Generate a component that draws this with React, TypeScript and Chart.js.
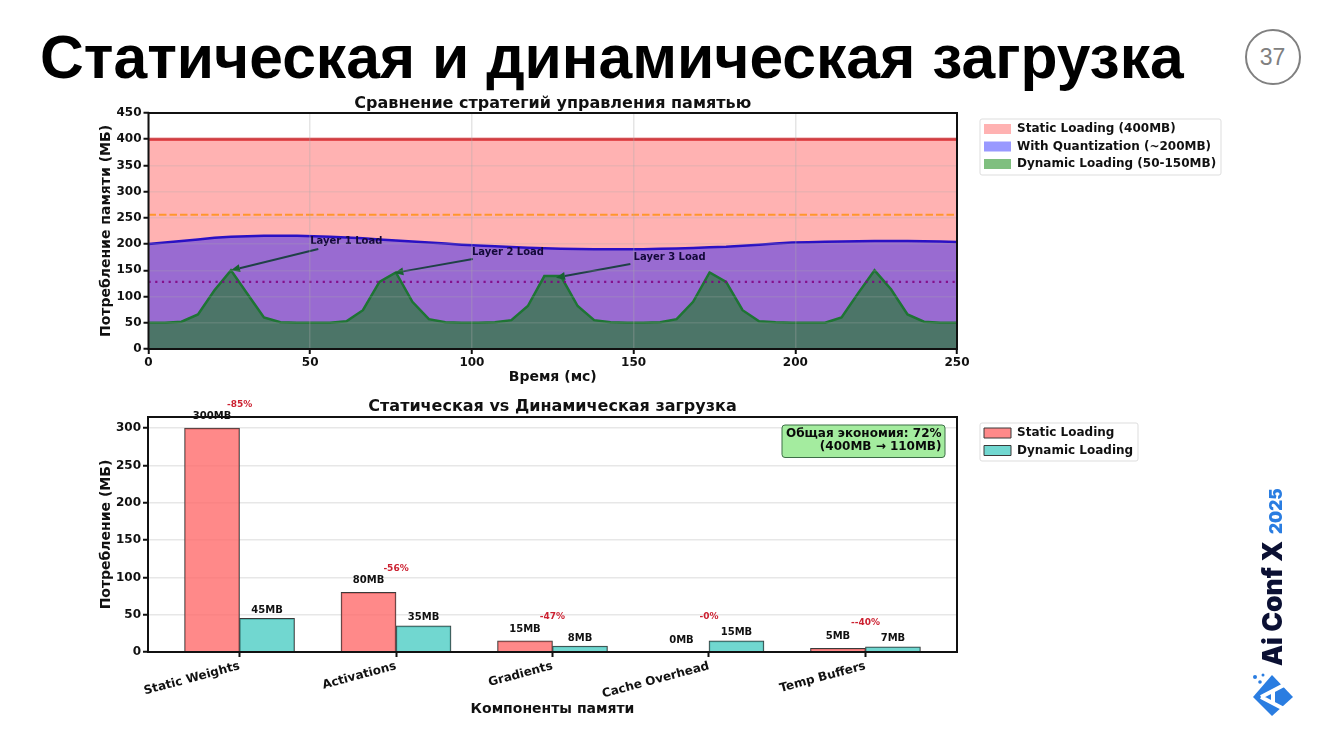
import { useEffect, useRef } from "react"
import { Chart, registerables } from "chart.js"

Chart.register(...registerables)

const FONT = "'DejaVu Sans'"

// top chart
const times = [0, 5.1, 10.2, 15.3, 20.4, 25.5, 30.6, 35.7, 40.8, 45.9, 51, 56.1, 61.2, 66.3, 71.4, 76.5, 81.6, 86.7, 91.8, 96.9, 102, 107.1, 112.2, 117.3, 122.4, 127.5, 132.7, 137.8, 142.9, 148, 153, 158.2, 163.3, 168.4, 173.5, 178.6, 183.7, 188.8, 193.9, 199, 204, 209.2, 214.3, 219.4, 224.5, 229.6, 234.7, 239.8, 244.9, 250]
const quantized = [200, 203, 206, 209, 212, 214, 215, 216, 216, 216, 215, 214, 212.5, 211, 209, 207, 205, 203, 201, 199, 197.5, 196, 194.5, 193, 192, 191, 190.5, 190, 190, 190, 190, 191, 191.5, 192.5, 194, 195, 197, 199, 201, 203, 203.5, 204.5, 205, 205.5, 206, 206, 206, 205.5, 205, 204]
const dynamic = [50, 50, 52, 66, 112, 150, 105, 60, 51, 50, 50, 50, 53, 74, 128, 146, 90, 57, 51, 50, 50, 51, 55, 82, 139, 139, 82, 55, 51, 50, 50, 51, 57, 90, 146, 128, 74, 53, 51, 50, 50, 50, 60, 106, 150, 114, 66, 52, 50, 50]
const edgeTimes = [0, 250]
const staticLevel = [400, 400]
const meanStatic = [256, 256]
const meanDynamic = [128, 128]
const layerLabels = ["Layer 1 Load", "Layer 2 Load", "Layer 3 Load"]
const layerTextTime = [50, 100, 150]
const layerTextMem = [206, 185, 174]
const layerTailTime = [52.5, 100.3, 149]
const layerTailMem = [190.7, 171.6, 162]
const layerTipTime = [25.5, 76, 126]
const layerTipMem = [150, 145, 136]

// bottom chart
const components = ["Static Weights", "Activations", "Gradients", "Cache Overhead", "Temp Buffers"]
const positions = [0, 1, 2, 3, 4]
const staticMb = [300, 80, 15, 0, 5]
const dynamicMb = [45, 35, 8, 15, 7]
const savings = ["-85%", "-56%", "-47%", "-0%", "--40%"]
const savingsNote = ["Общая экономия: 72%", "(400MB → 110MB)"]

const points = (xs: number[], ys: number[]) => xs.map((x, i) => ({ x, y: ys[i] }))

const font = (size: number) => ({ family: FONT, size, weight: "bold" as const, lineHeight: 1.2 })

// black frame round the plot, chart.js only has bottom/left borders otherwise
const framePlugin = {
  id: "frame",
  afterDraw(chart: any) {
    const { left, right, top, bottom } = chart.chartArea
    const ctx = chart.ctx
    ctx.save()
    ctx.strokeStyle = "#111"
    ctx.lineWidth = 2
    ctx.strokeRect(left, top, right - left, bottom - top)
    ctx.restore()
  },
}

// moves the legend out of the plot and draws its box
const legendBoxPlugin = {
  id: "legendBox",
  afterLayout(chart: any) {
    const { x, y, w, h } = chart.options.plugins.legendBox
    const legend = chart.legend
    legend.left = x - 1.5
    legend.top = y - 1.5
    legend.right = x + w
    // roomy bottom, otherwise the legend wraps into a second column
    legend.bottom = y + h + 30
  },
  beforeDraw(chart: any) {
    const { x, y, w, h } = chart.options.plugins.legendBox
    const ctx = chart.ctx
    ctx.save()
    ctx.strokeStyle = "#dddddd"
    ctx.fillStyle = "#fff"
    ctx.lineWidth = 1
    ctx.beginPath()
    ctx.roundRect(x, y, w, h, 2)
    ctx.fill()
    ctx.stroke()
    ctx.restore()
  },
}

const layerPlugin = {
  id: "layers",
  afterDatasetsDraw(chart: any) {
    const { x, y } = chart.scales
    const ctx = chart.ctx
    ctx.save()
    ctx.font = `bold 10px ${FONT}`
    ctx.textBaseline = "middle"
    layerLabels.forEach((label, i) => {
      const sx = x.getPixelForValue(layerTailTime[i])
      const sy = y.getPixelForValue(layerTailMem[i])
      const ex = x.getPixelForValue(layerTipTime[i])
      const ey = y.getPixelForValue(layerTipMem[i])
      const a = Math.atan2(ey - sy, ex - sx)
      const headX = ex - 9 * Math.cos(a)
      const headY = ey - 9 * Math.sin(a)
      ctx.strokeStyle = "rgba(22,62,60,0.92)"
      ctx.lineWidth = 2
      ctx.beginPath()
      ctx.moveTo(sx, sy)
      ctx.lineTo(headX, headY)
      ctx.stroke()
      ctx.fillStyle = "#17622f"
      ctx.beginPath()
      ctx.moveTo(ex, ey)
      ctx.lineTo(headX - 4 * Math.sin(a), headY + 4 * Math.cos(a))
      ctx.lineTo(headX + 4 * Math.sin(a), headY - 4 * Math.cos(a))
      ctx.closePath()
      ctx.fill()
      ctx.fillStyle = "#14093a"
      ctx.fillText(label, x.getPixelForValue(layerTextTime[i]), y.getPixelForValue(layerTextMem[i]))
    })
    ctx.restore()
  },
}

const barTextPlugin = {
  id: "barText",
  afterDraw(chart: any) {
    const { x, y } = chart.scales
    const ctx = chart.ctx
    ctx.save()
    ctx.textAlign = "center"
    ctx.textBaseline = "middle"
    positions.forEach((pos, i) => {
      const cx = x.getPixelForValue(pos)
      ctx.font = `bold 10px ${FONT}`
      ctx.fillStyle = "#111"
      ctx.fillText(`${staticMb[i]}MB`, cx - 27.5, y.getPixelForValue(staticMb[i]) - 11.5)
      ctx.fillText(`${dynamicMb[i]}MB`, cx + 27.5, y.getPixelForValue(dynamicMb[i]) - 8)
      ctx.font = `bold 9px ${FONT}`
      ctx.fillStyle = "#cc2030"
      ctx.fillText(savings[i], cx, y.getPixelForValue(Math.max(staticMb[i], dynamicMb[i])) - 24)
    })
    // note with the total saving
    const { right, top } = chart.chartArea
    const boxRight = right - 12
    const boxTop = top + 8
    ctx.fillStyle = "#a4ec9f"
    ctx.strokeStyle = "#3c6e46"
    ctx.lineWidth = 1
    ctx.beginPath()
    ctx.roundRect(boxRight - 163, boxTop, 163, 32.5, 3)
    ctx.fill()
    ctx.stroke()
    ctx.font = `bold 12px ${FONT}`
    ctx.fillStyle = "#0a0a0a"
    ctx.textAlign = "right"
    savingsNote.forEach((line, i) => ctx.fillText(line, boxRight - 3.5, boxTop + 9 + i * 13))
    ctx.restore()
  },
}

function ticksAndGrid(gridColor: string, gridWidth: number, z: number) {
  return {
    color: gridColor,
    lineWidth: gridWidth,
    z,
    tickColor: "#111",
    tickWidth: 2,
    tickLength: 5,
  }
}

function MemoryChart() {
  const ref = useRef<HTMLCanvasElement>(null)

  useEffect(() => {
    if (!ref.current) return
    const chart = new Chart(ref.current, {
      type: "line",
      data: {
        datasets: [
          {
            label: "Static Loading (400MB)",
            data: points(edgeTimes, staticLevel),
            fill: "origin",
            backgroundColor: "rgba(255,0,0,0.3)",
            borderColor: "rgba(215,30,35,0.9)",
            borderWidth: 3,
            order: 5,
          },
          {
            label: "With Quantization (~200MB)",
            data: points(times, quantized),
            fill: "origin",
            backgroundColor: "rgba(0,0,255,0.4)",
            borderColor: "#2a10c4",
            borderWidth: 2.5,
            order: 4,
          },
          {
            label: "Dynamic Loading (50-150MB)",
            data: points(times, dynamic),
            fill: "origin",
            backgroundColor: "rgba(0,128,0,0.5)",
            borderColor: "#1e7434",
            borderWidth: 2.5,
            order: 3,
          },
          {
            data: points(edgeTimes, meanStatic),
            borderColor: "rgba(255,140,0,0.75)",
            borderWidth: 2,
            borderDash: [7.5, 3],
            order: 2,
          },
          {
            data: points(edgeTimes, meanDynamic),
            borderColor: "rgba(128,0,128,0.85)",
            borderWidth: 2.2,
            borderDash: [2.2, 4.5],
            order: 1,
          },
        ],
      },
      plugins: [framePlugin, legendBoxPlugin, layerPlugin],
      options: {
        animation: false,
        responsive: false,
        layout: { padding: { left: 98, right: 363 } },
        elements: { point: { radius: 0 }, line: { tension: 0 } },
        scales: {
          x: {
            type: "linear",
            min: 0,
            max: 250,
            afterFit: (s: any) => { s.height = 41 },
            grid: ticksAndGrid("rgba(170,170,170,0.3)", 1.5, 1),
            border: { display: false },
            ticks: { stepSize: 50, color: "#111", font: font(12), padding: 2, maxRotation: 0 },
            title: { display: true, text: "Время (мс)", color: "#111", font: font(14), padding: { top: 0, bottom: 4.6 } },
          },
          y: {
            min: 0,
            max: 450,
            afterFit: (s: any) => { s.width = 50.5 },
            grid: ticksAndGrid("rgba(170,170,170,0.22)", 1.5, 1),
            border: { display: false },
            ticks: { stepSize: 50, color: "#111", font: font(12), padding: 2 },
            title: { display: true, text: "Потребление памяти (МБ)", color: "#111", font: font(14), padding: 0 },
          },
        },
        plugins: {
          title: {
            display: true,
            text: "Сравнение стратегий управления памятью",
            fullSize: false,
            color: "#111",
            font: font(16),
            padding: { top: 3.8, bottom: 0 },
          },
          legend: {
            position: "chartArea",
            align: "start",
            labels: {
              color: "#111",
              font: font(12),
              boxWidth: 27,
              boxHeight: 10,
              padding: 5.5,
              sort: (a: any, b: any) => a.datasetIndex - b.datasetIndex,
              generateLabels: (c: any) =>
                Chart.defaults.plugins.legend.labels
                  .generateLabels(c)
                  .filter((item: any) => item.text)
                  .map((item: any) => ({ ...item, lineWidth: 0 })),
            },
          },
          legendBox: { x: 980, y: 29, w: 241, h: 56 },
        } as any,
      },
    })
    return () => chart.destroy()
  }, [])

  return <canvas ref={ref} width={1320} height={300} style={{ position: "absolute", left: 0, top: 90 }} />
}

function LoadingBars() {
  const ref = useRef<HTMLCanvasElement>(null)

  useEffect(() => {
    if (!ref.current) return
    const chart = new Chart(ref.current, {
      type: "bar",
      data: {
        datasets: [
          {
            label: "Static Loading",
            data: points(positions, staticMb),
            backgroundColor: "rgba(255,107,107,0.8)",
            borderColor: "#3a3a3a",
            borderWidth: 1,
            barThickness: 55,
          },
          {
            label: "Dynamic Loading",
            data: points(positions, dynamicMb),
            backgroundColor: "rgba(78,205,196,0.8)",
            borderColor: "#3a3a3a",
            borderWidth: 1,
            barThickness: 55,
          },
        ],
      },
      plugins: [framePlugin, legendBoxPlugin, barTextPlugin],
      options: {
        animation: false,
        responsive: false,
        layout: { padding: { left: 98, right: 363 } },
        scales: {
          x: {
            type: "linear",
            offset: false,
            min: -0.585,
            max: 4.585,
            afterFit: (s: any) => { s.height = 68 },
            grid: { display: true, offset: false, drawOnChartArea: false, tickColor: "#111", tickWidth: 2, tickLength: 5 },
            border: { display: false },
            ticks: {
              stepSize: 1,
              includeBounds: false,
              autoSkip: false,
              minRotation: 15,
              maxRotation: 15,
              color: "#111",
              font: font(12),
              padding: 2,
              callback: (v: any) => components[v],
            },
            title: { display: true, text: "Компоненты памяти", color: "#111", font: font(14), padding: { top: 0, bottom: 2.4 } },
          },
          y: {
            min: 0,
            max: 315,
            afterFit: (s: any) => { s.width = 50 },
            grid: ticksAndGrid("#e7e7e7", 1.5, 0),
            border: { display: false },
            ticks: { stepSize: 50, includeBounds: false, color: "#111", font: font(12), padding: 2 },
            title: { display: true, text: "Потребление (МБ)", color: "#111", font: font(14), padding: 0 },
          },
        },
        plugins: {
          title: {
            display: true,
            text: "Статическая vs Динамическая загрузка",
            fullSize: false,
            color: "#111",
            font: font(16),
            padding: { top: 7.4, bottom: 0.4 },
          },
          legend: {
            position: "chartArea",
            align: "start",
            labels: { color: "#111", font: font(12), boxWidth: 27, boxHeight: 10, padding: 5.5 },
          },
          legendBox: { x: 980, y: 33, w: 158, h: 38 },
        } as any,
      },
    })
    return () => chart.destroy()
  }, [])

  return <canvas ref={ref} width={1320} height={330} style={{ position: "absolute", left: 0, top: 390 }} />
}

function Logo() {
  return (
    <svg width={44} height={46} viewBox="0 0 44 46" style={{ position: "absolute", left: 1251, top: 672 }}>
      <path d="M21 3 L42 25 L21 44 L2 25 Z" fill="#2a7de1" />
      <path d="M10 25 L33 13 M10 25 L33 37 M22 19 L22 31" stroke="#fff" strokeWidth={4} fill="none" />
      <circle cx="4" cy="5" r="2" fill="#2a7de1" />
      <circle cx="9" cy="10" r="1.8" fill="#2a7de1" />
      <circle cx="12" cy="3" r="1.5" fill="#2a7de1" />
    </svg>
  )
}

export default function App() {
  return (
    <div style={{ position: "fixed", inset: 0, background: "#fff", overflow: "hidden" }}>
      <div
        style={{
          position: "absolute",
          left: 40,
          top: 21,
          fontFamily: "'Liberation Sans'",
          fontWeight: 700,
          fontSize: 60.6,
          lineHeight: "72px",
          color: "#000",
          whiteSpace: "nowrap",
        }}
      >
        Статическая и динамическая загрузка
      </div>
      <div
        style={{
          position: "absolute",
          left: 1244.5,
          top: 29,
          width: 52,
          height: 52,
          border: "2.5px solid #808080",
          borderRadius: "50%",
          textAlign: "center",
          lineHeight: "52px",
          fontFamily: "'Liberation Sans'",
          fontSize: 23,
          color: "#808080",
        }}
      >
        37
      </div>
      <MemoryChart />
      <LoadingBars />
      <div
        style={{
          position: "absolute",
          left: 1272,
          top: 666,
          transform: "rotate(-90deg)",
          transformOrigin: "0 0",
          whiteSpace: "nowrap",
          fontFamily: "Inter",
          fontWeight: 900,
          lineHeight: "24px",
          marginLeft: -12,
        }}
      >
        <span style={{ fontSize: 26.5, color: "#0b1033" }}>Ai Conf X</span>
        <span style={{ fontSize: 17, color: "#2a7de1", marginLeft: 7 }}>2025</span>
      </div>
      <Logo />
    </div>
  )
}
